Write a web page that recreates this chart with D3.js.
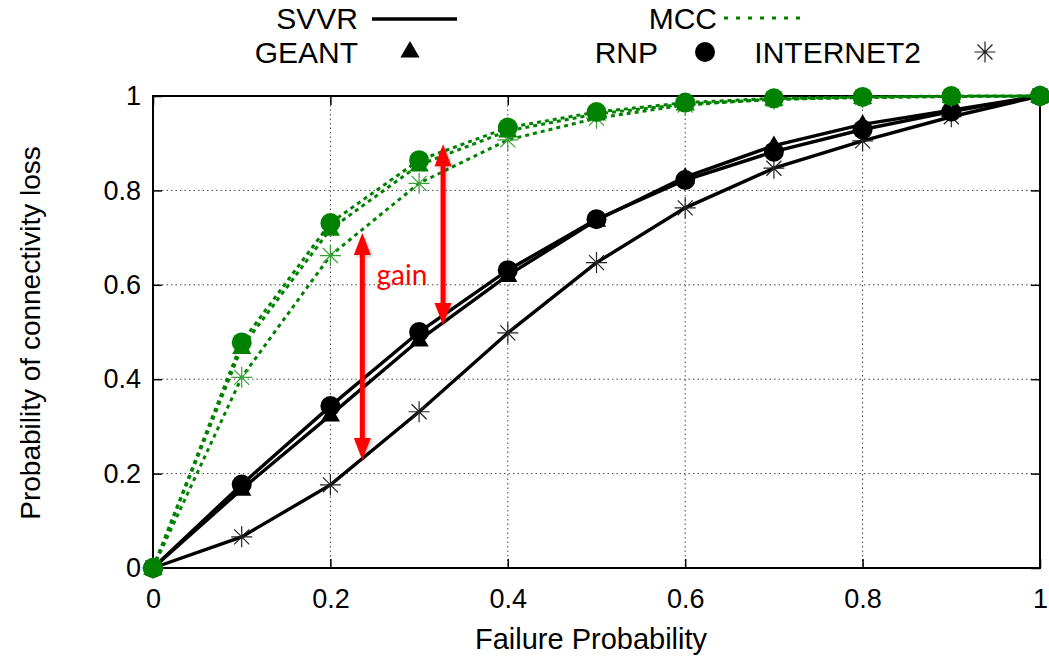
<!DOCTYPE html>
<html>
<head>
<meta charset="utf-8">
<script src="https://cdn.jsdelivr.net/npm/d3@7"></script>
<style>
  body { margin: 0; background: #fff; }
  text { font-family: "Liberation Sans", Arial, Helvetica, sans-serif; }
</style>
</head>
<body>
<div id="chart"></div>
<script>
// failure probability (x)
var failureProb = [0, 0.1, 0.2, 0.3, 0.4, 0.5, 0.6, 0.7, 0.8, 0.9, 1];

// probability of connectivity loss, SVVR
var svvrGeant     = [0, 0.167, 0.324, 0.483, 0.620, 0.737, 0.828, 0.895, 0.940, 0.970, 1];
var svvrRnp       = [0, 0.177, 0.343, 0.500, 0.631, 0.739, 0.822, 0.882, 0.929, 0.967, 1];
var svvrInternet2 = [0, 0.066, 0.176, 0.331, 0.498, 0.647, 0.763, 0.847, 0.905, 0.956, 1];

// probability of connectivity loss, MCC
var mccGeant     = [0, 0.467, 0.718, 0.854, 0.926, 0.962, 0.983, 0.993, 0.997, 0.999, 1];
var mccRnp       = [0, 0.478, 0.731, 0.864, 0.933, 0.966, 0.986, 0.995, 0.998, 1.000, 1];
var mccInternet2 = [0, 0.404, 0.662, 0.815, 0.907, 0.953, 0.981, 0.993, 0.997, 0.999, 1];

var xTicks = [0, 0.2, 0.4, 0.6, 0.8, 1];
var yTicks = [0, 0.2, 0.4, 0.6, 0.8, 1];

// gain arrows: [x, yFrom, yTo]
var gainArrows = [[0.236, 0.710, 0.229], [0.327, 0.898, 0.515]];

var W = 1049, H = 657;
var pLeft = 153, pRight = 1040, pTop = 96, pBottom = 568;

var svg = d3.select("#chart").append("svg").attr("width", W).attr("height", H);

var x = d3.scaleLinear().domain([0, 1]).range([pLeft, pRight]);
var y = d3.scaleLinear().domain([0, 1]).range([pBottom, pTop]);

var green = "#008200";

var defs = svg.append("defs");
defs.append("filter").attr("id", "shadow")
    .attr("x", "-50%").attr("y", "-10%").attr("width", "200%").attr("height", "120%")
  .append("feDropShadow")
    .attr("dx", 1.5).attr("dy", 1.5).attr("stdDeviation", 1.5)
    .attr("flood-color", "#000").attr("flood-opacity", 0.25);

// GRID
var grid = svg.append("g");
grid.selectAll(".gx").data(xTicks.slice(1, -1)).enter().append("line")
    .attr("x1", function(d) { return x(d); }).attr("x2", function(d) { return x(d); })
    .attr("y1", pTop).attr("y2", pBottom);
grid.selectAll(".gy").data(yTicks.slice(1, -1)).enter().append("line")
    .attr("y1", function(d) { return y(d); }).attr("y2", function(d) { return y(d); })
    .attr("x1", pLeft).attr("x2", pRight);
grid.selectAll("line")
    .attr("stroke", "#444").attr("stroke-width", 1).attr("stroke-dasharray", "1.5,3");

// AXES (ticks inside, mirrored)
var tl = -9;
svg.append("g").attr("transform", "translate(0," + pBottom + ")")
    .call(d3.axisBottom(x).tickValues(xTicks).tickSize(tl).tickPadding(21)
      .tickFormat(function(d) { return d3.format("")(d); }))
    .call(styleAxis);
svg.append("g").attr("transform", "translate(0," + pTop + ")")
    .call(d3.axisTop(x).tickValues(xTicks).tickSize(tl).tickFormat(""))
    .call(styleAxis);
svg.append("g").attr("transform", "translate(" + pLeft + ",0)")
    .call(d3.axisLeft(y).tickValues(yTicks).tickSize(tl).tickPadding(12)
      .tickFormat(function(d) { return d3.format("")(d); }))
    .call(styleAxis);
svg.append("g").attr("transform", "translate(" + pRight + ",0)")
    .call(d3.axisRight(y).tickValues(yTicks).tickSize(tl).tickFormat(""))
    .call(styleAxis);

function styleAxis(g) {
  g.select(".domain").remove();
  g.selectAll(".tick line").attr("stroke", "#000").attr("stroke-width", 1.5);
  g.selectAll(".tick text").attr("fill", "#000").style("font-size", "27px");
}

svg.append("rect")
    .attr("x", pLeft).attr("y", pTop).attr("width", pRight - pLeft).attr("height", pBottom - pTop)
    .attr("fill", "none").attr("stroke", "#000").attr("stroke-width", 2);

// axis titles
svg.append("text").attr("x", 591).attr("y", 649)
    .attr("text-anchor", "middle").style("font-size", "29px").text("Failure Probability");
svg.append("text").attr("transform", "translate(40,333) rotate(-90)")
    .attr("text-anchor", "middle").style("font-size", "28px").text("Probability of connectivity loss");

// MARKERS
function marker(g, type, cx, cy, color, starColor) {
  if (type === "triangle") {
    g.append("path")
      .attr("d", d3.symbol().type(d3.symbolTriangle).size(160)())
      .attr("transform", "translate(" + cx + "," + (cy + 1) + ")")
      .attr("fill", color);
  } else if (type === "circle") {
    g.append("circle").attr("cx", cx).attr("cy", cy).attr("r", 10).attr("fill", color);
  } else {
    var r = 10.5, d = 7.5;
    g.append("path")
      .attr("d", "M" + (cx - r) + "," + cy + "H" + (cx + r) +
                 "M" + cx + "," + (cy - r) + "V" + (cy + r) +
                 "M" + (cx - d) + "," + (cy - d) + "L" + (cx + d) + "," + (cy + d) +
                 "M" + (cx - d) + "," + (cy + d) + "L" + (cx + d) + "," + (cy - d))
      .attr("stroke", starColor).attr("stroke-width", 1.2).attr("fill", "none");
  }
}

var line = d3.line()
    .x(function(d, i) { return x(failureProb[i]); })
    .y(function(d) { return y(d); });

function drawSeries(values, type, color, dash, starColor) {
  var g = svg.append("g");
  g.append("path").datum(values)
      .attr("d", line)
      .attr("fill", "none").attr("stroke", color).attr("stroke-width", dash ? 3 : 3.4)
      .attr("stroke-dasharray", dash ? "4,4" : null);
  values.forEach(function(v, i) {
    marker(g, type, x(failureProb[i]), y(v), color, starColor);
  });
}

drawSeries(svvrInternet2, "star", "#000", false, "#222");
drawSeries(svvrGeant, "triangle", "#000", false);
drawSeries(svvrRnp, "circle", "#000", false);
drawSeries(mccInternet2, "star", green, true, "#3aa03a");
drawSeries(mccGeant, "triangle", green, true);
drawSeries(mccRnp, "circle", green, true);

// GAIN ARROWS
var ag = svg.append("g").attr("filter", "url(#shadow)");
gainArrows.forEach(function(a) {
  var ax = x(a[0]), y1 = y(a[1]), y2 = y(a[2]);
  var hl = 22, hw = 8.5;
  ag.append("line").attr("x1", ax).attr("x2", ax)
      .attr("y1", y1 + hl - 2).attr("y2", y2 - hl + 2)
      .attr("stroke", "#ff0000").attr("stroke-width", 5);
  ag.append("path")
      .attr("d", "M" + ax + "," + y1 + "L" + (ax - hw) + "," + (y1 + hl) + "L" + (ax + hw) + "," + (y1 + hl) + "Z" +
                 "M" + ax + "," + y2 + "L" + (ax - hw) + "," + (y2 - hl) + "L" + (ax + hw) + "," + (y2 - hl) + "Z")
      .attr("fill", "#ff0000");
});
svg.append("text").attr("x", x(0.252)).attr("y", y(0.6))
    .style("font-family", "Lato, 'Open Sans', sans-serif").style("font-size", "28px")
    .attr("fill", "#ff0000").text("gain");

// LEGEND
var lg = svg.append("g").style("font-size", "30px");
lg.append("text").attr("x", 358).attr("y", 29).attr("text-anchor", "end").text("SVVR");
lg.append("line").attr("x1", 372).attr("x2", 457).attr("y1", 19).attr("y2", 19)
    .attr("stroke", "#000").attr("stroke-width", 3.4);
lg.append("text").attr("x", 717).attr("y", 29).attr("text-anchor", "end").text("MCC");
lg.append("line").attr("x1", 724).attr("x2", 802).attr("y1", 18).attr("y2", 18)
    .attr("stroke", green).attr("stroke-width", 3).attr("stroke-dasharray", "4,8");
lg.append("text").attr("x", 358).attr("y", 63).attr("text-anchor", "end").text("GEANT");
marker(lg, "triangle", 410, 51, "#000");
lg.append("text").attr("x", 658).attr("y", 63).attr("text-anchor", "end").text("RNP");
marker(lg, "circle", 705, 52, "#000");
lg.append("text").attr("x", 921).attr("y", 63).attr("text-anchor", "end").text("INTERNET2");
marker(lg, "star", 985, 52, "#000", "#222");
</script>
</body>
</html>
